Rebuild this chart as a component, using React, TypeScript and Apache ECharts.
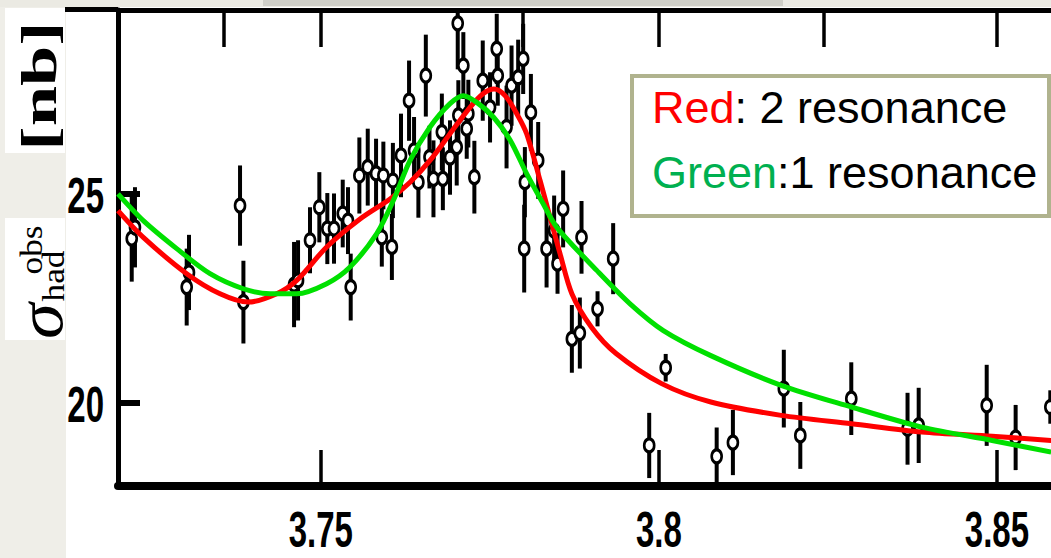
import React, { useEffect, useRef } from 'react';
import * as echarts from 'echarts';

// measured data points (x in GeV, cross section in nb, symmetric error)
const pointX = [3.72203, 3.72251, 3.73016, 3.7305, 3.73805, 3.73855, 3.74604, 3.74663, 3.7484, 3.74978, 3.75096, 3.75195, 3.75324, 3.75402, 3.75442, 3.7557, 3.75694, 3.75817, 3.75925, 3.75902, 3.76066, 3.76051, 3.76186, 3.76305, 3.76379, 3.76443, 3.76553, 3.76607, 3.76666, 3.7679, 3.76805, 3.76911, 3.7701, 3.77025, 3.77108, 3.77034, 3.77182, 3.77158, 3.77271, 3.77395, 3.77503, 3.77602, 3.77617, 3.77747, 3.77821, 3.77919, 3.77993, 3.78018, 3.78008, 3.78107, 3.78215, 3.78339, 3.78451, 3.78501, 3.78584, 3.78713, 3.78831, 3.78856, 3.79093, 3.79324, 3.79857, 3.80101, 3.80855, 3.81095, 3.81848, 3.82092, 3.82846, 3.83678, 3.83843, 3.84849, 3.85277, 3.8579];
const pointY = [23.92, 24.19, 22.76, 23.11, 24.71, 22.4, 22.82, 22.92, 23.88, 24.67, 24.16, 24.16, 24.52, 24.35, 22.76, 25.43, 25.63, 25.48, 25.43, 23.95, 25.31, 23.72, 25.91, 27.22, 26.03, 25.27, 27.82, 25.87, 25.35, 26.47, 25.35, 25.86, 26.11, 29.07, 28.06, 26.87, 26.91, 26.55, 25.39, 27.7, 27.06, 28.46, 27.82, 26.59, 27.58, 27.78, 28.22, 25.27, 23.68, 26.94, 25.79, 23.68, 24.11, 23.32, 24.63, 21.52, 21.66, 23.95, 22.24, 23.44, 18.97, 20.83, 18.71, 19.04, 20.33, 19.21, 20.09, 19.37, 19.45, 19.93, 19.16, 19.89];
const pointErr = [1.03, 0.96, 0.92, 0.9, 0.96, 0.99, 1.02, 0.96, 0.79, 0.84, 0.85, 0.84, 0.81, 0.8, 0.8, 0.91, 0.92, 0.83, 0.81, 0.7, 0.9, 0.79, 1.0, 0.96, 0.8, 0.85, 0.98, 0.75, 0.92, 0.92, 0.75, 0.89, 0.92, 1.1, 0.8, 0.84, 0.81, 0.72, 0.87, 0.96, 0.84, 0.84, 0.72, 0.99, 0.96, 0.9, 0.84, 0.84, 1.05, 0.92, 0.92, 0.93, 0.84, 0.72, 0.92, 0.81, 0.85, 0.87, 0.42, 0.85, 0.78, 0.33, 0.69, 0.78, 0.93, 0.8, 0.87, 0.86, 0.9, 0.97, 0.78, 0.4];

// fit curves
const redX = [3.72, 3.72374, 3.73016, 3.73509, 3.73928, 3.74348, 3.74644, 3.75087, 3.7558, 3.76024, 3.7632, 3.76615, 3.76911, 3.77207, 3.77404, 3.77562, 3.77725, 3.77898, 3.78044, 3.78243, 3.78391, 3.78538, 3.78713, 3.79003, 3.79367, 3.80041, 3.80769, 3.81808, 3.82849, 3.83888, 3.84929, 3.85802];
const redY = [24.59, 23.95, 23.08, 22.6, 22.4, 22.6, 22.92, 23.72, 24.39, 24.87, 25.27, 25.79, 26.43, 27.06, 27.39, 27.5, 27.34, 26.91, 26.43, 25.31, 24.43, 23.56, 22.6, 21.8, 21.17, 20.45, 20.01, 19.69, 19.49, 19.29, 19.19, 19.09];
const greenX = [3.72, 3.72374, 3.72868, 3.73361, 3.73853, 3.74249, 3.74644, 3.75087, 3.75432, 3.75827, 3.76072, 3.7632, 3.76615, 3.76911, 3.77108, 3.77306, 3.77552, 3.77799, 3.78046, 3.78291, 3.7849, 3.79081, 3.79574, 3.80066, 3.80769, 3.81808, 3.82849, 3.83888, 3.84929, 3.85802];
const greenY = [24.99, 24.35, 23.68, 23.08, 22.72, 22.6, 22.6, 22.84, 23.24, 24.04, 24.83, 25.79, 26.59, 27.15, 27.34, 27.18, 26.83, 26.28, 25.47, 24.75, 24.19, 23.16, 22.36, 21.72, 21.12, 20.41, 19.89, 19.41, 19.09, 18.81];

const xTickValues = [3.75, 3.8, 3.85];
const xTickLabels = ['3.75', '3.8', '3.85'];
const yTickValues = [20, 25];
const yTickLabels = ['20', '25'];
const topTickValues = [3.7357, 3.75, 3.7799, 3.8, 3.8244, 3.85];
const legendKeys = ['Red', 'Green'];
const legendTexts = [': 2 resonance', ':1 resonance'];

export default function App() {
  const ref = useRef<HTMLDivElement>(null);
  useEffect(() => {
    const chart = echarts.init(ref.current!, null, { renderer: 'svg' });
    const errData = pointX.map((x, i) => [x, pointY[i], pointErr[i]]);
    const ptData = pointX.map((x, i) => [x, pointY[i]]);
    const axisCommon = { type: 'value', min: 3.72, max: 3.858, splitLine: { show: false }, axisLabel: { show: false } };
    chart.setOption({
      animation: false,
      grid: { left: 118, right: 0, top: 10, bottom: 72, show: true, backgroundColor: '#fff', borderWidth: 0 },
      xAxis: [
        { ...axisCommon, position: 'bottom', axisLine: { show: true, onZero: false, lineStyle: { color: '#000', width: 8 } },
          axisTick: { show: true, inside: true, length: 36, lineStyle: { color: '#000', width: 3.5 }, customValues: xTickValues } },
        { ...axisCommon, position: 'top', axisLine: { show: true, onZero: false, lineStyle: { color: '#000', width: 5 } },
          axisTick: { show: true, inside: true, length: 37, lineStyle: { color: '#000', width: 3.5 }, customValues: topTickValues } },
      ],
      yAxis: { type: 'value', min: 18, max: 29.39, splitLine: { show: false }, axisLabel: { show: false },
        axisLine: { show: true, onZero: false, lineStyle: { color: '#000', width: 5 } },
        axisTick: { show: true, inside: true, length: 22, lineStyle: { color: '#000', width: 6 }, customValues: yTickValues } },
      series: [
        {
          type: 'custom', xAxisIndex: 0, yAxisIndex: 0, data: errData, clip: true, z: 2,
          encode: { x: 0, y: 1 },
          renderItem: (params: any, api: any) => {
            const x = api.value(0), y = api.value(1), e = api.value(2);
            const p1 = api.coord([x, y + e]);
            const p2 = api.coord([x, y - e]);
            return { type: 'line', shape: { x1: p1[0], y1: p1[1], x2: p2[0], y2: p2[1] }, style: { stroke: '#000', lineWidth: 4 } };
          },
        },
        { type: 'scatter', xAxisIndex: 0, yAxisIndex: 0, data: ptData, symbol: 'circle', symbolSize: [10, 13], z: 3, clip: true,
          itemStyle: { color: '#fff', borderColor: '#000', borderWidth: 3, opacity: 1 } },
        { type: 'line', xAxisIndex: 0, yAxisIndex: 0, data: redX.map((x, i) => [x, redY[i]]), smooth: 0.3, showSymbol: false, z: 4, clip: true,
          lineStyle: { color: '#ff0000', width: 5 } },
        { type: 'line', xAxisIndex: 0, yAxisIndex: 0, data: greenX.map((x, i) => [x, greenY[i]]), smooth: 0.3, showSymbol: false, z: 5, clip: true,
          lineStyle: { color: '#00e000', width: 5 } },
      ],
    });

    const xs = xTickValues.map((v) => chart.convertToPixel({ xAxisIndex: 0 }, v) as number);
    const ys = yTickValues.map((v) => chart.convertToPixel({ yAxisIndex: 0 }, v) as number);
    const tickFont = 'bold 50px "Liberation Sans", Arial, sans-serif';
    const txt = (o: any) => ({ type: 'text', z: 50, ...o });
    const elements: any[] = [
      { type: 'rect', z: 1, shape: { x: 0, y: 0, width: 66, height: 558 }, style: { fill: '#efeee8' } },
      { type: 'rect', z: 1, shape: { x: 0, y: 0, width: 1051, height: 7 }, style: { fill: '#ebeae3' } },
      { type: 'rect', z: 1, shape: { x: 263, y: 0, width: 520, height: 6 }, style: { fill: '#cfcfc8' } },
      { type: 'rect', z: 2, shape: { x: 5, y: 8, width: 60, height: 145 }, style: { fill: '#ffffff' } },
      { type: 'rect', z: 2, shape: { x: 5, y: 218, width: 60, height: 122 }, style: { fill: '#ffffff' } },
      { type: 'line', z: 2, shape: { x1: 65, y1: 9.5, x2: 118, y2: 9.5 }, style: { stroke: '#000', lineWidth: 5 } },
      txt({ x: 39, y: 86, rotation: Math.PI / 2, scaleX: 1.45, style: { text: '[nb]', font: 'bold 50px "Liberation Serif", serif', lineHeight: 56, fill: '#000', align: 'center', verticalAlign: 'middle', textAlign: 'center', textVerticalAlign: 'middle' } }),
      txt({ x: 40, y: 321, rotation: Math.PI / 2, scaleX: 1.1, style: { text: 'σ', font: 'italic 66px "Liberation Serif", serif', lineHeight: 50, fill: '#000', align: 'center', verticalAlign: 'middle', textAlign: 'center', textVerticalAlign: 'middle' } }),
      txt({ x: 31, y: 250, rotation: Math.PI / 2, scaleX: 1.1, style: { text: 'obs', font: '32px "Liberation Serif", serif', lineHeight: 30, fill: '#000', align: 'center', verticalAlign: 'middle', textAlign: 'center', textVerticalAlign: 'middle' } }),
      txt({ x: 53, y: 276, rotation: Math.PI / 2, scaleX: 1.1, style: { text: 'had', font: '32px "Liberation Serif", serif', lineHeight: 30, fill: '#000', align: 'center', verticalAlign: 'middle', textAlign: 'center', textVerticalAlign: 'middle' } }),
      { type: 'rect', z: 60, shape: { x: 632, y: 76, width: 417, height: 140 }, style: { fill: '#fff', stroke: '#b0b38e', lineWidth: 4 } },
    ];
    xs.forEach((px, i) => elements.push(txt({ x: px, y: 530, scaleX: 0.66, style: { text: xTickLabels[i], font: tickFont, lineHeight: 44, fill: '#000', align: 'center', verticalAlign: 'middle', textAlign: 'center', textVerticalAlign: 'middle' } })));
    ys.forEach((py, i) => elements.push(txt({ x: 104, y: py + 2, scaleX: 0.66, style: { text: yTickLabels[i], font: tickFont, lineHeight: 44, fill: '#000', align: 'right', verticalAlign: 'middle', textAlign: 'right', textVerticalAlign: 'middle' } })));
    legendKeys.forEach((k, i) => elements.push(txt({ z: 70, x: 652, y: 107 + i * 65, style: {
      text: `{k|${k}}{t|${legendTexts[i]}}`, font: '45px "Liberation Sans", Arial, sans-serif', align: 'left', verticalAlign: 'middle', textAlign: 'left', textVerticalAlign: 'middle',
      rich: { k: { fill: i === 0 ? '#ff0000' : '#00b050', color: i === 0 ? '#ff0000' : '#00b050', font: '45px "Liberation Sans", Arial, sans-serif' }, t: { fill: '#000', color: '#000', font: '45px "Liberation Sans", Arial, sans-serif' } },
    } })));
    chart.setOption({ graphic: { elements } });
    return () => chart.dispose();
  }, []);
  return <div ref={ref} style={{ position: 'absolute', left: 0, top: 0, width: 1051, height: 558, background: '#fff' }} />;
}
